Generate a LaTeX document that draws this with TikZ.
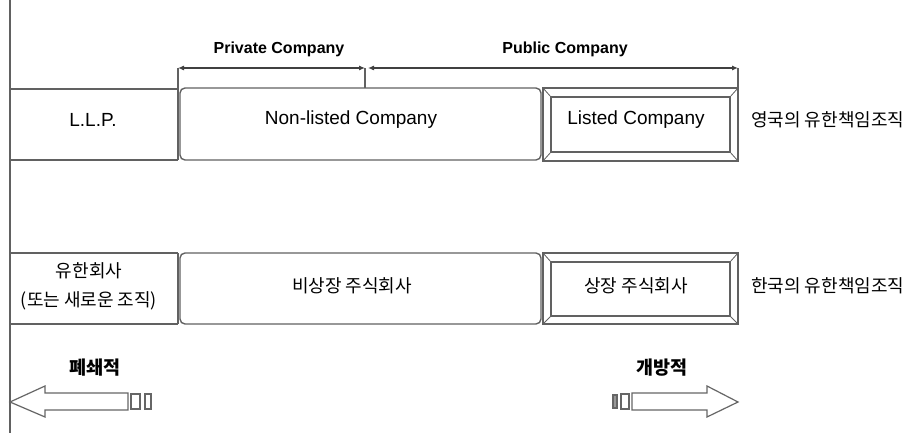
\documentclass[tikz,border=0pt]{standalone}
\usepackage{fontspec}
\setmainfont{Liberation Sans}
\newfontfamily\kr{Noto Sans CJK KR}
\usetikzlibrary{arrows.meta}
\begin{document}
\begin{tikzpicture}[x=1pt,y=-1pt,
  ln/.style={draw=black!62, line width=1.4pt},
  en/.style={font=\fontsize{19}{22}\selectfont, inner sep=0pt},
  enb/.style={font=\fontsize{16}{18}\selectfont\bfseries, inner sep=0pt},
  ko/.style={font=\kr\fontsize{18}{22}\selectfont, inner sep=0pt, align=center},
  kob/.style={font=\kr\fontsize{18.5}{22}\selectfont\bfseries, inner sep=0pt},
  dim/.style={draw=black!75, line width=1.1pt, {Latex[length=6pt,width=5pt]}-{Latex[length=6pt,width=5pt]}},
  blk/.style={draw=black!60, line width=1.2pt, fill=white}]
\useasboundingbox (0,0) rectangle (919,433);
% vertical axis
\draw[ln] (10,0) -- (10,433);

% ---------- top row ----------
\coordinate (pA) at (178,68);
\coordinate (pB) at (365,68);
\coordinate (pC) at (368,68);
\coordinate (pD) at (738,68);
\draw[ln] (10,89) -- (178,89);
\draw[ln] (10,160) -- (178,160);
\draw[ln] (pA) -- (178,160);
\draw[ln] (pB) -- (365,88);
\draw[ln] (pD) -- (738,88);
\draw[dim] (pA) -- (pB);
\draw[dim] (pC) -- (pD);
\node[enb] (priv) at (279,49) {Private Company};
\node[enb] (pub) at (565,49) {Public Company};

\draw[ln, rounded corners=5pt] (180,88) rectangle (541,160);
% beveled listed box
\draw[ln] (543,88) rectangle (738,161);
\draw[ln] (551,97) rectangle (730,152);
\draw[ln, line width=0.8pt] (543,88) -- (551,97) (738,88) -- (730,97) (543,161) -- (551,152) (738,161) -- (730,152);

\node[en] (llp) at (93,120) {L.L.P.};
\node[en] (nonl) at (351,120) {Non-listed Company};
\node[en] (list) at (636,120) {Listed Company};
\node[ko, anchor=west] (uk) at (751,120) {영국의 유한책임조직};

% ---------- bottom row ----------
\draw[ln] (10,253) -- (178,253);
\draw[ln] (10,324) -- (178,324);
\draw[ln] (178,253) -- (178,324);
\draw[ln, rounded corners=5pt] (180,253) rectangle (541,324);
\draw[ln] (543,253) rectangle (738,324);
\draw[ln] (551,262) rectangle (730,316);
\draw[ln, line width=0.8pt] (543,253) -- (551,262) (738,253) -- (730,262) (543,324) -- (551,316) (738,324) -- (730,316);

\node[ko] (ltd1) at (89,271) {유한회사};
\node[ko] (ltd2) at (89,301) {(또는 새로운 조직)};
\node[ko] (nonlk) at (352,286) {비상장 주식회사};
\node[ko] (listk) at (636,286) {상장 주식회사};
\node[ko, anchor=west] (kr) at (751,286) {한국의 유한책임조직};

% ---------- direction arrows ----------
\node[kob] (closed) at (95,368) {폐쇄적};
\node[kob] (open) at (662,368) {개방적};

\draw[blk] (10,402) -- (45,386) -- (45,393) -- (128,393) -- (128,410) -- (45,410) -- (45,417) -- cycle;
\draw[blk] (131,394) rectangle (140,409);
\draw[blk] (145,394) rectangle (151,409);

\draw[blk] (738,402) -- (707,386) -- (707,393) -- (632,393) -- (632,410) -- (707,410) -- (707,417) -- cycle;
\draw[blk] (621,394) rectangle (629,409);
\draw[blk, fill=black!40] (613,395) rectangle (617,408);
\end{tikzpicture}
\end{document}
